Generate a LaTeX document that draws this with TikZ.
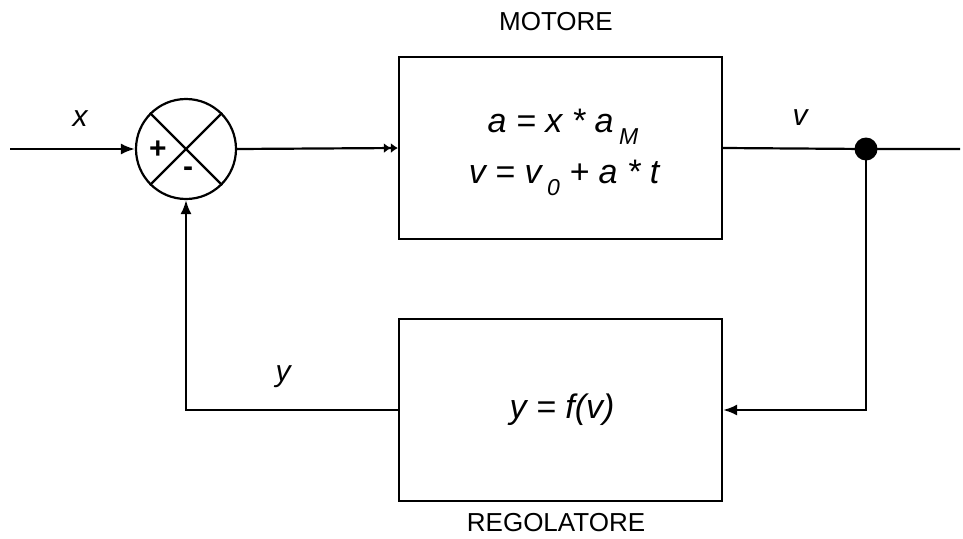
\documentclass[tikz,border=0pt]{standalone}
\usepackage{fontspec}
\setmainfont{Liberation Sans}
\usetikzlibrary{arrows.meta}
\newcommand\myfs[1]{\fontsize{#1}{#1}\selectfont}
\begin{document}
\begin{tikzpicture}[x=1pt,y=-1pt,
  lw/.style={line width=2.2pt},
  blk/.style={draw,lw,minimum width=323pt,minimum height=182pt,inner sep=0pt},
  arr/.style={lw,-{Latex[length=14pt,width=11pt]}},
  darr/.style={lw,-{Latex[length=7pt,width=10pt]Latex[length=7pt,width=10pt]}},
  lbl/.style={font=\myfs{30}\itshape,inner sep=0pt},
  eq/.style={font=\myfs{34}\itshape,inner sep=0pt},
  ttl/.style={font=\myfs{26},inner sep=0pt},
  sg/.style={font=\myfs{30}\bfseries,inner sep=0pt},
  dotst/.style={circle,fill=black,minimum size=23pt,inner sep=0pt}]
\useasboundingbox (0,0) rectangle (963,538);
% blocks
\node[blk] (mot) at (560.5,148) {};
\node[blk] (reg) at (560.5,410) {};
\node[eq] (eq1) at (563,127) {a = x * a\,\raisebox{-0.35em}{\myfs{23}M}};
\node[eq] (eq2) at (564,178) {v = v\,\raisebox{-0.35em}{\myfs{23}0} + a * t};
\node[eq] (eq3) at (562,410) {y = f(v)};
\node[ttl] (tm) at (556,22) {MOTORE};
\node[ttl] (tr) at (556,523) {REGOLATORE};
% summing junction
\node[circle,draw,lw,minimum size=100pt,inner sep=0pt] (sum) at (186,149) {};
\draw[lw] (sum.45) -- (sum.225);
\draw[lw] (sum.135) -- (sum.315);
\node[sg] (plus) at (158,150) {+};
\node[sg] (minus) at (188,172) {-};
% labels
\node[lbl] (lx) at (80,119) {x};
\node[lbl] (lv) at (800,118) {v};
\node[lbl] (ly) at (283,377) {y};
% connectors
\coordinate (in) at (10,149);
\coordinate (out) at (960,149);
\node[dotst] (d) at (866,149) {};
\draw[arr] (in) -- (sum.west);
\draw[darr] (sum.east) -- (mot.west);
\draw[lw] (mot.east) -- (d.center) -- (out);
\draw[arr] (d.center) |- (reg.east);
\draw[arr] (reg.west) -| (sum.south);
\end{tikzpicture}
\end{document}
